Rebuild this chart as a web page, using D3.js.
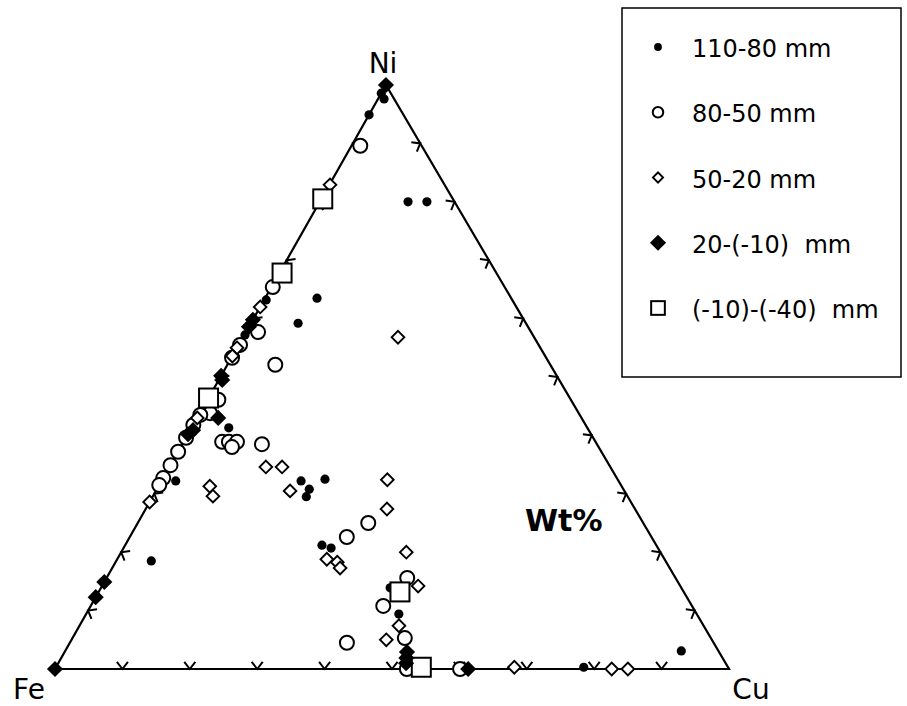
<!DOCTYPE html>
<html>
<head>
<meta charset="utf-8">
<title>Fe-Ni-Cu ternary</title>
<script src="https://d3js.org/d3.v7.min.js"></script>
<style>
  body { margin: 0; padding: 0; background: #fff; }
  text { font-family: "DejaVu Sans", sans-serif; fill: #000; white-space: pre; }
</style>
</head>
<body>
<script>
// compositions in wt% : [Ni, Cu]  (Fe = 100 - Ni - Cu)
var dots110_80 = [
  [98.6, 0], [97.6, 0.9], [94.9, 0], [80.0, 13.1], [80.0, 15.9], [63.5, 7.7], [59.2, 7.0],
  [63.2, 0.3], [57.2, 0.1], [41.3, 5.5], [32.2, 2.1], [32.2, 20.7], [32.5, 24.1], [30.8, 22.6],
  [29.5, 22.8], [21.2, 29.2], [20.7, 30.8], [18.5, 5.2], [9.4, 46.4], [3.1, 91.4], [0.3, 78.3],
  [13.9, 42.9]
];
var rings80_50 = [
  [89.6, 1.3], [65.4, 0.2], [57.7, 1.8], [53.3, 0.1], [52.1, 7.1], [46.1, 1.6], [43.8, 1.5],
  [43.5, 0.2], [38.9, 5.7], [38.9, 6.7], [38.9, 7.9], [38.0, 7.6], [38.5, 11.8], [37.2, 0],
  [34.9, 0], [32.7, 0], [31.5, 0], [41.8, 0], [25.0, 34.2], [22.6, 32.2], [15.6, 44.6],
  [10.8, 43.4], [5.3, 49.3], [4.5, 41.1], [0, 52.2], [0, 60.1], [55.5, 0.2], [39.6, 0]
];
var diamonds50_20 = [
  [82.9, 0.1], [62.0, 0], [55.0, 0], [56.8, 23.0], [34.6, 14.3], [34.6, 16.7], [31.3, 7.6],
  [29.6, 8.9], [30.5, 19.9], [32.4, 33.4], [27.4, 35.8], [20.0, 42.3], [18.8, 31.1], [18.3, 32.9],
  [17.3, 33.8], [14.2, 46.9], [7.4, 47.4], [5.0, 46.7], [0.3, 68.0], [0, 82.6], [0, 85.0],
  [28.6, 0], [43.0, 0], [53.6, 0]
];
var solids20_m10 = [
  [100, 0], [59.8, 0], [58.6, 0], [50.2, 0], [49.5, 0.5], [43.0, 3.1], [40.9, 0.4], [40.2, 0],
  [14.9, 0], [12.3, 0], [0, 0], [2.9, 50.8], [1.9, 51.2], [1.0, 51.6], [0, 61.3]
];
var squaresM10_m40 = [
  [80.5, 0.2], [67.8, 0.4], [46.4, 0], [13.2, 44.7], [0.3, 54.2]
];
var legendLabels = ["110-80 mm", "80-50 mm", "50-20 mm", "20-(-10)  mm", "(-10)-(-40)  mm"];
var vertexLabels = ["Fe", "Cu", "Ni"];
var tickSteps = [10, 20, 30, 40, 50, 60, 70, 80, 90];

var w = 907, h = 706;
var svg = d3.select("body").append("svg").attr("width", w).attr("height", h);

// base runs Fe -> Cu, height is Ni; apex sits a bit left of the middle
var xs = d3.scaleLinear().domain([0, 100]).range([55, 729]);
var ys = d3.scaleLinear().domain([0, 100]).range([669, 85]);
var skew = 0.491;
function pos(ni, cu) { return [xs(cu + skew * ni), ys(ni)]; }

var FE = pos(0, 0), CU = pos(0, 100), NI = pos(100, 0);

svg.append("path")
  .attr("d", "M" + FE + "L" + CU + "L" + NI + "Z")
  .attr("fill", "none").attr("stroke", "#000").attr("stroke-width", 2.2)
  .attr("stroke-linejoin", "miter");

// chevron ticks, vertex on the edge, arms pointing inward
function chevrons(a, b, inward) {
  var len = 9, spread = 38 * Math.PI / 180;
  var ang = Math.atan2(inward[1], inward[0]);
  tickSteps.forEach(function(t) {
    var f = t / 100;
    var p = [a[0] + (b[0] - a[0]) * f, a[1] + (b[1] - a[1]) * f];
    var p1 = [p[0] + len * Math.cos(ang - spread), p[1] + len * Math.sin(ang - spread)];
    var p2 = [p[0] + len * Math.cos(ang + spread), p[1] + len * Math.sin(ang + spread)];
    svg.append("path")
      .attr("d", "M" + p1 + "L" + p + "L" + p2)
      .attr("fill", "none").attr("stroke", "#000").attr("stroke-width", 2);
  });
}
chevrons(FE, CU, [0, -1]);
chevrons(FE, NI, [0.866, 0.5]);
chevrons(CU, NI, [-0.866, 0.5]);

// markers
function drawDot(g, x, y, s) { g.append("circle").attr("cx", x).attr("cy", y).attr("r", 4.6 * s).attr("fill", "#000"); }
function drawRing(g, x, y, s) {
  g.append("circle").attr("cx", x).attr("cy", y).attr("r", 7 * s)
    .attr("fill", "#fff").attr("stroke", "#000").attr("stroke-width", 2);
}
function drawOpenDiamond(g, x, y, s) {
  g.append("path").attr("d", d3.symbol(d3.symbolSquare, 80 * s * s)())
    .attr("transform", "translate(" + x + "," + y + ") rotate(45)")
    .attr("fill", "#fff").attr("stroke", "#000").attr("stroke-width", 1.9);
}
function drawSolidDiamond(g, x, y, s) {
  g.append("path").attr("d", d3.symbol(d3.symbolSquare, 130 * s * s)())
    .attr("transform", "translate(" + x + "," + y + ") rotate(45)")
    .attr("fill", "#000");
}
function drawSquare(g, x, y, s) {
  var a = 19 * s;
  g.append("rect").attr("x", x - a / 2).attr("y", y - a / 2).attr("width", a).attr("height", a)
    .attr("fill", "#fff").attr("stroke", "#000").attr("stroke-width", 2);
}

var series = [
  { data: dots110_80, draw: drawDot, leg: 0.85 },
  { data: rings80_50, draw: drawRing, leg: 0.75 },
  { data: diamonds50_20, draw: drawOpenDiamond, leg: 0.8 },
  { data: squaresM10_m40, draw: drawSquare, leg: 0.72 },
  { data: solids20_m10, draw: drawSolidDiamond, leg: 1 }
];
var legendOrder = [0, 1, 2, 4, 3];

var pts = svg.append("g");
series.forEach(function(s) {
  s.data.forEach(function(d) {
    var p = pos(d[0], d[1]);
    s.draw(pts, p[0], p[1], 1);
  });
});

// vertex labels
svg.append("text").attr("x", 29).attr("y", 699).attr("text-anchor", "middle")
  .attr("font-size", 28).text(vertexLabels[0]);
svg.append("text").attr("x", 751).attr("y", 699).attr("text-anchor", "middle")
  .attr("font-size", 28).text(vertexLabels[1]);
svg.append("text").attr("x", 383).attr("y", 73).attr("text-anchor", "middle")
  .attr("font-size", 28).text(vertexLabels[2]);
svg.append("text").attr("x", 525).attr("y", 531).attr("font-size", 30)
  .attr("font-weight", "bold").text("Wt%");

// legend
var lg = svg.append("g");
lg.append("rect").attr("x", 622).attr("y", 8).attr("width", 279).attr("height", 369)
  .attr("fill", "#fff").attr("stroke", "#000").attr("stroke-width", 1.5);
var rowY = d3.scaleLinear().domain([0, 4]).range([57, 318]);
legendLabels.forEach(function(lab, i) {
  var s = series[legendOrder[i]];
  s.draw(lg, 658, rowY(i) - 10, s.leg);
  lg.append("text").attr("x", 692).attr("y", rowY(i)).attr("font-size", 24).text(lab);
});
</script>
</body>
</html>
